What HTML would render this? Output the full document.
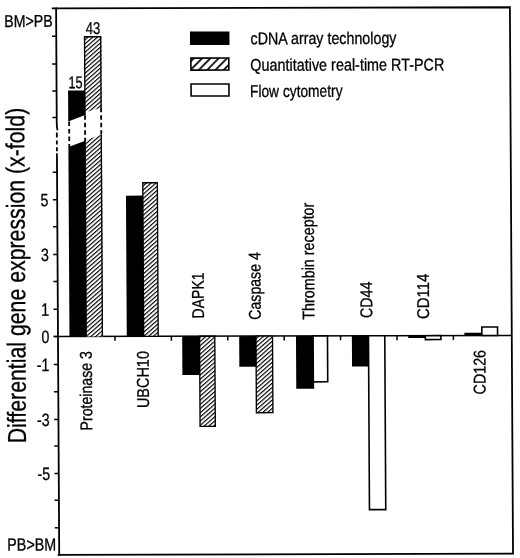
<!DOCTYPE html>
<html><head><meta charset="utf-8"><style>
html,body{margin:0;padding:0;background:#fff;}
svg{display:block;filter:grayscale(1) blur(0.3px);}
text{font-family:"Liberation Sans", sans-serif;fill:#000;stroke:#000;stroke-width:0.3px;}

</style></head><body>
<svg width="520" height="558" viewBox="0 0 520 558">
<defs>
<pattern id="hatch" patternUnits="userSpaceOnUse" width="3.15" height="3.15" patternTransform="rotate(-41)">
<rect width="3.15" height="3.15" fill="#fff"/><rect y="0" width="3.15" height="1.15" fill="#000"/>
</pattern>
<pattern id="hatchL" patternUnits="userSpaceOnUse" width="5.87" height="5.87" patternTransform="translate(193.3,67.2) rotate(-45)">
<rect width="5.87" height="5.87" fill="#fff"/><rect y="0" width="5.87" height="0.85" fill="#000"/><rect y="5.02" width="5.87" height="0.85" fill="#000"/>
</pattern>
</defs>
<rect width="520" height="558" fill="#fff"/>
<g transform="matrix(1,-0.0025,0.0057,1,-0.0456,0.1400)">
<path d="M51.800000000000004,8.4 H509.9 V554.8 H54.6" fill="none" stroke="#000" stroke-width="1.8"/>
<path d="M56.1,7.5 V123.5 Q56.1,127.5 56.800000000000004,130.2" fill="none" stroke="#000" stroke-width="1.8"/>
<line x1="56.1" y1="132.6" x2="56.1" y2="137.6" stroke="#000" stroke-width="1.8"/>
<line x1="56.1" y1="140.5" x2="56.1" y2="144.4" stroke="#000" stroke-width="1.8"/>
<line x1="56.1" y1="147.2" x2="56.1" y2="151.3" stroke="#000" stroke-width="1.8"/>
<line x1="56.1" y1="153.2" x2="56.1" y2="555.6999999999999" stroke="#000" stroke-width="1.8"/>
<line x1="51.800000000000004" y1="36.30" x2="56.1" y2="36.30" stroke="#000" stroke-width="1.5"/>
<line x1="51.800000000000004" y1="64.00" x2="56.1" y2="64.00" stroke="#000" stroke-width="1.5"/>
<line x1="51.800000000000004" y1="91.10" x2="56.1" y2="91.10" stroke="#000" stroke-width="1.5"/>
<line x1="51.800000000000004" y1="117.40" x2="56.1" y2="117.40" stroke="#000" stroke-width="1.5"/>
<line x1="51.800000000000004" y1="172.20" x2="56.1" y2="172.20" stroke="#000" stroke-width="1.5"/>
<line x1="51.800000000000004" y1="199.80" x2="56.1" y2="199.80" stroke="#000" stroke-width="1.5"/>
<line x1="51.800000000000004" y1="226.80" x2="56.1" y2="226.80" stroke="#000" stroke-width="1.5"/>
<line x1="51.800000000000004" y1="254.50" x2="56.1" y2="254.50" stroke="#000" stroke-width="1.5"/>
<line x1="51.800000000000004" y1="281.40" x2="56.1" y2="281.40" stroke="#000" stroke-width="1.5"/>
<line x1="51.800000000000004" y1="309.20" x2="56.1" y2="309.20" stroke="#000" stroke-width="1.5"/>
<line x1="51.800000000000004" y1="336.40" x2="56.1" y2="336.40" stroke="#000" stroke-width="1.5"/>
<line x1="51.800000000000004" y1="364.40" x2="56.1" y2="364.40" stroke="#000" stroke-width="1.5"/>
<line x1="51.800000000000004" y1="391.70" x2="56.1" y2="391.70" stroke="#000" stroke-width="1.5"/>
<line x1="51.800000000000004" y1="419.40" x2="56.1" y2="419.40" stroke="#000" stroke-width="1.5"/>
<line x1="51.800000000000004" y1="446.10" x2="56.1" y2="446.10" stroke="#000" stroke-width="1.5"/>
<line x1="51.800000000000004" y1="473.40" x2="56.1" y2="473.40" stroke="#000" stroke-width="1.5"/>
<line x1="51.800000000000004" y1="500.20" x2="56.1" y2="500.20" stroke="#000" stroke-width="1.5"/>
<line x1="51.800000000000004" y1="527.70" x2="56.1" y2="527.70" stroke="#000" stroke-width="1.5"/>
<line x1="51.800000000000004" y1="336.6" x2="509.9" y2="336.6" stroke="#000" stroke-width="1.5"/>
<line x1="113.10" y1="336.6" x2="113.10" y2="341.0" stroke="#000" stroke-width="1.5"/>
<line x1="169.50" y1="336.6" x2="169.50" y2="341.0" stroke="#000" stroke-width="1.5"/>
<line x1="225.90" y1="336.6" x2="225.90" y2="341.0" stroke="#000" stroke-width="1.5"/>
<line x1="282.30" y1="336.6" x2="282.30" y2="341.0" stroke="#000" stroke-width="1.5"/>
<line x1="338.70" y1="336.6" x2="338.70" y2="341.0" stroke="#000" stroke-width="1.5"/>
<line x1="395.10" y1="336.6" x2="395.10" y2="341.0" stroke="#000" stroke-width="1.5"/>
<line x1="451.50" y1="336.6" x2="451.50" y2="341.0" stroke="#000" stroke-width="1.5"/>
<rect x="124.9" y="195.80" width="17.70" height="140.80" fill="#000"/>
<rect x="141.80" y="182.98" width="14.53" height="153.62" fill="url(#hatch)" stroke="#000" stroke-width="1.35"/>
<rect x="180.3" y="336.60" width="18.20" height="38.70" fill="#000"/>
<rect x="197.70" y="336.60" width="15.22" height="90.12" fill="url(#hatch)" stroke="#000" stroke-width="1.35"/>
<rect x="237.3" y="336.60" width="17.60" height="30.70" fill="#000"/>
<rect x="254.10" y="336.60" width="16.53" height="76.62" fill="url(#hatch)" stroke="#000" stroke-width="1.35"/>
<rect x="294.1" y="336.60" width="17.90" height="52.70" fill="#000"/>
<rect x="311.20" y="336.60" width="14.40" height="45.90" fill="#fff" stroke="#000" stroke-width="1.6"/>
<rect x="350.0" y="336.60" width="17.40" height="30.60" fill="#000"/>
<rect x="366.60" y="336.60" width="16.30" height="173.80" fill="#fff" stroke="#000" stroke-width="1.6"/>
<rect x="406.4" y="336.60" width="17.90" height="2.20" fill="#000"/>
<rect x="423.50" y="336.60" width="15.50" height="3.90" fill="#fff" stroke="#000" stroke-width="1.6"/>
<rect x="462.5" y="333.70" width="18.30" height="2.90" fill="#000"/>
<rect x="480.00" y="328.10" width="15.70" height="8.50" fill="#fff" stroke="#000" stroke-width="1.6"/>
<polygon points="67.6,336.6 67.6,147.15 84.5,140.86 84.5,336.6" fill="#000"/>
<polygon points="67.6,90.45 84.5,90.45 84.5,115.06 67.6,121.55" fill="#000"/>
<polygon points="84.5,336.6 84.5,140.37 101.2,134.53 101.2,336.6" fill="url(#hatch)"/>
<polygon points="84.5,36.1 101.2,36.1 101.2,107.85 84.5,112.27" fill="url(#hatch)"/>
<polyline points="84.375,115.37 84.375,36.775 100.525,36.775 100.525,108.03" fill="none" stroke="#000" stroke-width="1.35"/>
<line x1="84.375" y1="141.16" x2="84.375" y2="336.6" stroke="#000" stroke-width="1.35"/>
<line x1="100.525" y1="134.77" x2="100.525" y2="336.6" stroke="#000" stroke-width="1.35"/>
<line x1="68.50" y1="121.55" x2="68.50" y2="147.15" stroke="#000" stroke-width="1.8" stroke-dasharray="4.5 3"/>
<line x1="84.38" y1="115.37" x2="84.38" y2="141.16" stroke="#000" stroke-width="1.8" stroke-dasharray="4.5 3"/>
<line x1="100.53" y1="107.85" x2="100.53" y2="134.53" stroke="#000" stroke-width="1.8" stroke-dasharray="4.5 3"/>
<rect x="189.8" y="31.9" width="39.5" height="13.5" fill="#000"/>
<rect x="190.6" y="58.5" width="37.9" height="12.0" fill="url(#hatchL)" stroke="#000" stroke-width="1.6"/>
<rect x="190.6" y="84.4" width="37.9" height="12.0" fill="#fff" stroke="#000" stroke-width="1.6"/>
<text x="250.3" y="44.7" font-size="17" text-anchor="start" textLength="146" lengthAdjust="spacingAndGlyphs">cDNA array technology</text>
<text x="250.0" y="71.3" font-size="17" text-anchor="start" textLength="194" lengthAdjust="spacingAndGlyphs">Quantitative real-time RT-PCR</text>
<text x="249.5" y="97.5" font-size="17" text-anchor="start" textLength="92.5" lengthAdjust="spacingAndGlyphs">Flow cytometry</text>
<text transform="translate(47.4,206.30) scale(0.80,1)" font-size="17.8" text-anchor="end">5</text>
<text transform="translate(47.4,261.00) scale(0.80,1)" font-size="17.8" text-anchor="end">3</text>
<text transform="translate(47.4,315.70) scale(0.80,1)" font-size="17.8" text-anchor="end">1</text>
<text transform="translate(47.4,342.90) scale(0.80,1)" font-size="17.8" text-anchor="end">0</text>
<text transform="translate(47.4,370.90) scale(0.80,1)" font-size="17.8" text-anchor="end">-1</text>
<text transform="translate(47.4,425.90) scale(0.80,1)" font-size="17.8" text-anchor="end">-3</text>
<text transform="translate(47.4,479.90) scale(0.80,1)" font-size="17.8" text-anchor="end">-5</text>
<text x="68.0" y="88.3" font-size="17" text-anchor="start" textLength="14.2" lengthAdjust="spacingAndGlyphs">15</text>
<text x="85.6" y="34.0" font-size="17" text-anchor="start" textLength="14.6" lengthAdjust="spacingAndGlyphs">43</text>
<text x="4.1" y="26.8" font-size="17" text-anchor="start" textLength="48.5" lengthAdjust="spacingAndGlyphs">BM&gt;PB</text>
<text x="4.2" y="550.4" font-size="17.5" text-anchor="start" textLength="49.0" lengthAdjust="spacingAndGlyphs">PB&gt;BM</text>
<text transform="translate(23.5,443.2) rotate(-90)" font-size="26" text-anchor="start" textLength="335.5" lengthAdjust="spacingAndGlyphs">Differential gene expression (x-fold)</text>
<text transform="translate(89.8,430.6) rotate(-90)" font-size="17" text-anchor="start" textLength="79.5" lengthAdjust="spacingAndGlyphs">Proteinase 3</text>
<text transform="translate(146.7,408.3) rotate(-90)" font-size="17" text-anchor="start" textLength="57" lengthAdjust="spacingAndGlyphs">UBCH10</text>
<text transform="translate(202.2,318.8) rotate(-90)" font-size="17" text-anchor="start" textLength="46" lengthAdjust="spacingAndGlyphs">DAPK1</text>
<text transform="translate(259.0,320.2) rotate(-90)" font-size="17" text-anchor="start" textLength="67.5" lengthAdjust="spacingAndGlyphs">Caspase 4</text>
<text transform="translate(312.6,320.3) rotate(-90)" font-size="17" text-anchor="start" textLength="117" lengthAdjust="spacingAndGlyphs">Thrombin receptor</text>
<text transform="translate(370.5,318.8) rotate(-90)" font-size="17" text-anchor="start" textLength="36.5" lengthAdjust="spacingAndGlyphs">CD44</text>
<text transform="translate(427.3,320.0) rotate(-90)" font-size="17" text-anchor="start" textLength="45.5" lengthAdjust="spacingAndGlyphs">CD114</text>
<text transform="translate(483.4,395.5) rotate(-90)" font-size="17" text-anchor="start" textLength="44.5" lengthAdjust="spacingAndGlyphs">CD126</text>
</g>
</svg>
</body></html>
